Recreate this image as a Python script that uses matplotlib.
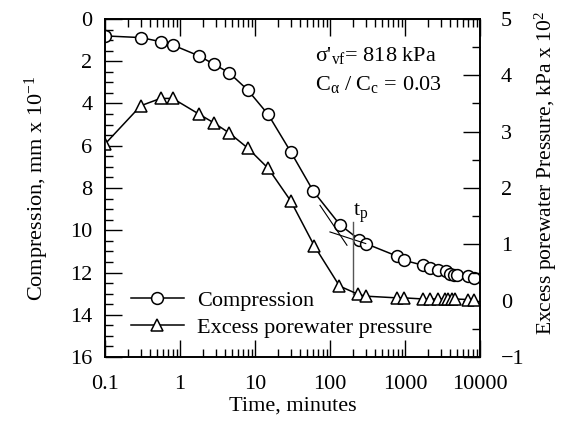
import matplotlib

matplotlib.use("Agg")
import matplotlib.pyplot as plt
from matplotlib.ticker import MultipleLocator, LogLocator, NullFormatter, FixedLocator

plt.rcParams["font.family"] = ["Liberation Serif", "DejaVu Serif"]
plt.rcParams["mathtext.fontset"] = "custom"
plt.rcParams["mathtext.rm"] = "Liberation Serif"
plt.rcParams["mathtext.it"] = "Liberation Serif:italic"

# compression readings (mm x 10^-1) vs time (minutes)
comp_time = [0.1, 0.3, 0.55, 0.8, 1.8, 2.8, 4.5, 8, 15, 30, 60, 135, 245, 300,
             790, 970, 1750, 2150, 2780, 3500, 4040, 4470, 4950, 6900, 8300]
compression = [0.8, 0.88, 1.07, 1.23, 1.75, 2.13, 2.54, 3.36, 4.52, 6.29, 8.15, 9.73, 10.44, 10.63,
               11.23, 11.42, 11.66, 11.77, 11.86, 11.94, 12.05, 12.1, 12.13, 12.18, 12.26]

# excess porewater pressure (kPa x 10^2)
pore_time = [0.1, 0.3, 0.55, 0.8, 1.8, 2.8, 4.5, 8, 15, 30, 62, 134, 240, 300,
             780, 970, 1750, 2150, 2780, 3400, 3800, 4200, 4700, 6900, 8300]
pore_pressure = [2.78, 3.46, 3.59, 3.59, 3.31, 3.16, 2.98, 2.71, 2.35, 1.77, 0.97, 0.26, 0.11, 0.08,
                 0.05, 0.05, 0.03, 0.03, 0.03, 0.03, 0.03, 0.03, 0.03, 0.02, 0.02]

# Casagrande construction for t_p
tangent1_t = [73.6, 168.6]
tangent1_c = [8.82, 10.71]
tangent2_t = [100, 300]
tangent2_c = [10.08, 10.63]
tp_time = 200
tp_range = [9.6, 13.03]

fs = 16

fig = plt.figure(figsize=(5.62, 4.22), dpi=100)
ax = fig.add_axes([0.1868, 0.154, 0.6672, 0.801])
ax2 = ax.twinx()

l1, = ax.plot(comp_time, compression, "-o", color="black", lw=1.1, ms=8.5,
              mfc="white", mec="black", mew=1.1, label="Compression")
ax.plot(tangent1_t, tangent1_c, color="black", lw=0.8)
ax.plot(tangent2_t, tangent2_c, color="black", lw=0.8)
ax.plot([tp_time, tp_time], tp_range, color="#555555", lw=1.0)
ax.text(tp_time * 1.0, 9.75, "t$_{\\rm p}$", fontsize=fs, ha="left", va="bottom")

l2, = ax2.plot(pore_time, pore_pressure, "-^", color="black", lw=1.1, ms=9,
               mfc="white", mec="black", mew=1.1, label="Excess porewater pressure")

ax.set_xscale("log")
ax.set_xlim(0.1, 10000)
ax.set_ylim(16, 0)
ax2.set_ylim(-1, 5)

ax.xaxis.set_major_locator(FixedLocator([0.1, 1, 10, 100, 1000, 10000]))
ax.xaxis.set_minor_locator(LogLocator(base=10, subs=range(2, 10), numticks=20))
ax.xaxis.set_minor_formatter(NullFormatter())
ax.set_xticklabels(["0.1", "1", "10", "100", "1000", "10000"])
ax.yaxis.set_major_locator(MultipleLocator(2))
ax.yaxis.set_minor_locator(MultipleLocator(0.5))
ax2.yaxis.set_major_locator(MultipleLocator(1))
ax2.yaxis.set_minor_locator(MultipleLocator(0.5))

ax.tick_params(which="both", direction="in", top=True, labelsize=fs, width=1)
ax.tick_params(which="major", length=12)
ax.tick_params(which="minor", length=6)
ax.tick_params(axis="x", pad=13)
ax.tick_params(axis="y", pad=9)
ax2.tick_params(which="both", direction="in", labelsize=fs, width=1, pad=15)
ax2.tick_params(which="major", length=12)
ax2.tick_params(which="minor", length=6)
for a in (ax, ax2):
    for s in a.spines.values():
        s.set_linewidth(1.2)

ax.set_xlabel("Time, minutes", fontsize=fs, labelpad=2)
ax.set_ylabel("Compression, mm x 10$^{-1}$", fontsize=fs, labelpad=14)
ax2.set_ylabel("Excess porewater Pressure, kPa x 10$^2$", fontsize=15.5)
ax2.yaxis.set_label_coords(1.14, 0.545)

ax.text(0.56, 0.893, "σ'$_{\\rm vf}$= 818 kPa", transform=ax.transAxes, fontsize=fs,
        ha="left", va="center")
ax.text(0.56, 0.805, "C$_{\\rm α}$ / C$_{\\rm c}$ = 0.03", transform=ax.transAxes, fontsize=fs,
        ha="left", va="center")

ax.legend(handles=[l1, l2], loc="lower left", bbox_to_anchor=(0.045, 0.03), frameon=False,
          fontsize=fs, handlelength=2.4, handletextpad=0.6, labelspacing=0.3, borderaxespad=0)

fig.savefig("out.png", dpi=100)
